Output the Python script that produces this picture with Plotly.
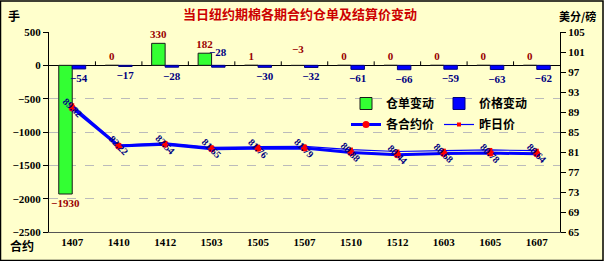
import plotly.graph_objects as go

contracts = ["1407", "1410", "1412", "1503", "1505", "1507", "1510", "1512", "1603", "1605", "1607"]
warrant_change = [-1930, 0, 330, 182, 1, -3, 0, 0, 0, 0, 0]
price_change = [-54, -17, -28, -28, -30, -32, -61, -66, -59, -63, -62]
settle_price = [89.82, 82.22, 82.54, 81.65, 81.76, 81.79, 80.88, 80.44, 80.68, 80.78, 80.64]
prev_price = [round(p - c / 100, 2) for p, c in zip(settle_price, price_change)]

# labels that the original chart shows above the zero line although the value is negative
warrant_label_up = [False, False, False, False, False, True, False, False, False, False, False]
price_label_up = [False, False, False, True, False, False, False, False, False, False, False]

W, H = 604, 261
L, R, T, B = 49, 44, 32, 29
PW, PH = W - L - R, H - T - B

BG = "#FFFFCC"
FONT = "Liberation Serif, Noto Sans CJK SC"
CJK = "Noto Sans CJK SC"
BARGAP = 0.42
HALF = (1 - BARGAP) / 4  # offset of each bar centre inside the group


def px_to_paper(px_x, px_y):
    return (px_x - L) / PW, 1 - (px_y - T) / PH


def fmt(v):
    return str(v).replace("-", "−")


fig = go.Figure()

fig.add_trace(go.Bar(
    x=contracts, y=warrant_change, name="仓单变动",
    marker=dict(color="#33FF33", line=dict(color="#1a1a1a", width=1)),
    text=["" if up else fmt(v) for v, up in zip(warrant_change, warrant_label_up)],
    textposition="outside", constraintext="none",
    textfont=dict(color="#990000", size=11, family=FONT, weight="bold"),
    cliponaxis=False, legend="legend",
))
fig.add_trace(go.Bar(
    x=contracts, y=price_change, name="价格变动",
    marker=dict(color="#0000FF", line=dict(color="#000080", width=1)),
    text=["" if up else fmt(v) for v, up in zip(price_change, price_label_up)],
    textposition="outside", constraintext="none",
    textfont=dict(color="#000080", size=11, family=FONT, weight="bold"),
    cliponaxis=False, legend="legend",
))
fig.add_trace(go.Scatter(
    x=contracts, y=settle_price, name="各合约价", yaxis="y2",
    mode="lines+markers",
    line=dict(color="#0000FF", width=3),
    marker=dict(color="#FF0000", size=7, symbol="circle"),
    legend="legend2",
))
fig.add_trace(go.Scatter(
    x=contracts, y=prev_price, name="昨日价", yaxis="y2",
    mode="lines+markers",
    line=dict(color="#0000FF", width=1.2),
    marker=dict(color="#FF0000", size=4, symbol="square"),
    legend="legend2",
))

annotations = []
for i, p in enumerate(settle_price):
    annotations.append(dict(
        x=i, y=p, xref="x", yref="y2", text=f"{p:.2f}", textangle=45,
        showarrow=False, xanchor="center", yanchor="middle",
        font=dict(color="#000080", size=10, family=FONT, weight="bold"),
    ))

for i, (v, up) in enumerate(zip(warrant_change, warrant_label_up)):
    if up:
        annotations.append(dict(x=i - HALF, y=0, xref="x", yref="y", text=fmt(v),
                                showarrow=False, xanchor="center", yanchor="bottom", yshift=8,
                                font=dict(color="#990000", size=11, family=FONT, weight="bold")))
for i, (v, up) in enumerate(zip(price_change, price_label_up)):
    if up:
        annotations.append(dict(x=i + HALF, y=0, xref="x", yref="y", text=fmt(v),
                                showarrow=False, xanchor="center", yanchor="bottom", yshift=5,
                                font=dict(color="#000080", size=11, family=FONT, weight="bold")))

for txt, px_x, px_y, size in [("手", 14, 15, 12), ("美分/磅", 577, 16, 11), ("合约", 22, 245, 12)]:
    ax, ay = px_to_paper(px_x, px_y)
    annotations.append(dict(x=ax, y=ay, xref="paper", yref="paper", text=txt,
                            showarrow=False, xanchor="center", yanchor="middle",
                            font=dict(size=size, family=CJK, color="black", weight="bold")))

shapes = []
for i in range(1, len(contracts)):
    shapes.append(dict(type="line", xref="x", yref="y", x0=i - 0.5, x1=i - 0.5,
                       ysizemode="pixel", yanchor=0, y0=0, y1=4,
                       line=dict(color="black", width=1)))
shapes.append(dict(type="rect", xref="paper", yref="paper",
                   x0=-L / PW + 0.5 / PW, x1=1 + (R - 1) / PW,
                   y0=-B / PH + 0.5 / PH, y1=1 + (T - 1) / PH,
                   line=dict(color="black", width=1.5), layer="above"))

lx, ly1 = px_to_paper(346, 89)
_, ly2 = px_to_paper(346, 110)

fig.update_layout(
    width=W, height=H,
    margin=dict(l=L, r=R, t=T, b=B, pad=0),
    paper_bgcolor=BG, plot_bgcolor=BG,
    barmode="group", bargap=BARGAP, bargroupgap=0,
    title=dict(text="当日纽约期棉各期合约仓单及结算价变动", x=300 / W, xanchor="center",
               y=1 - 14 / H, yanchor="middle",
               font=dict(size=13, family=CJK, color="#CC0000", weight="bold")),
    xaxis=dict(type="category", range=[-0.5, len(contracts) - 0.5],
               showline=True, linecolor="#555555", linewidth=1, mirror=False,
               ticks="", showgrid=False,
               tickfont=dict(size=11, family=FONT, color="black", weight="bold")),
    yaxis=dict(range=[-2500, 500], dtick=500, showline=True, linecolor="black",
               linewidth=1, ticks="outside", ticklen=5, tickcolor="black",
               showgrid=True, gridcolor="#BBBBBB", griddash="dash", gridwidth=1,
               zeroline=True, zerolinecolor="black", zerolinewidth=1,
               tickformat="d",
               tickfont=dict(size=11, family=FONT, color="black", weight="bold")),
    yaxis2=dict(range=[65, 105], tick0=65, dtick=4, overlaying="y", side="right",
                showline=True, linecolor="black", linewidth=1,
                ticks="outside", ticklen=5, tickcolor="black", showgrid=False,
                zeroline=False,
                tickfont=dict(size=11, family=FONT, color="black", weight="bold")),
    legend=dict(orientation="h", x=lx, y=ly1,
                xanchor="left", yanchor="top", bgcolor="rgba(0,0,0,0)",
                entrywidth=48, entrywidthmode="pixels", traceorder="normal",
                itemwidth=30, tracegroupgap=0,
                font=dict(size=12, family=CJK, color="black", weight="bold")),
    legend2=dict(orientation="h", x=lx, y=ly2,
                 xanchor="left", yanchor="top", bgcolor="rgba(0,0,0,0)",
                 entrywidth=48, entrywidthmode="pixels", traceorder="normal",
                 itemwidth=30,
                 font=dict(size=12, family=CJK, color="black", weight="bold")),
    showlegend=True,
    annotations=annotations,
    shapes=shapes,
)

fig.write_html("out.html")
